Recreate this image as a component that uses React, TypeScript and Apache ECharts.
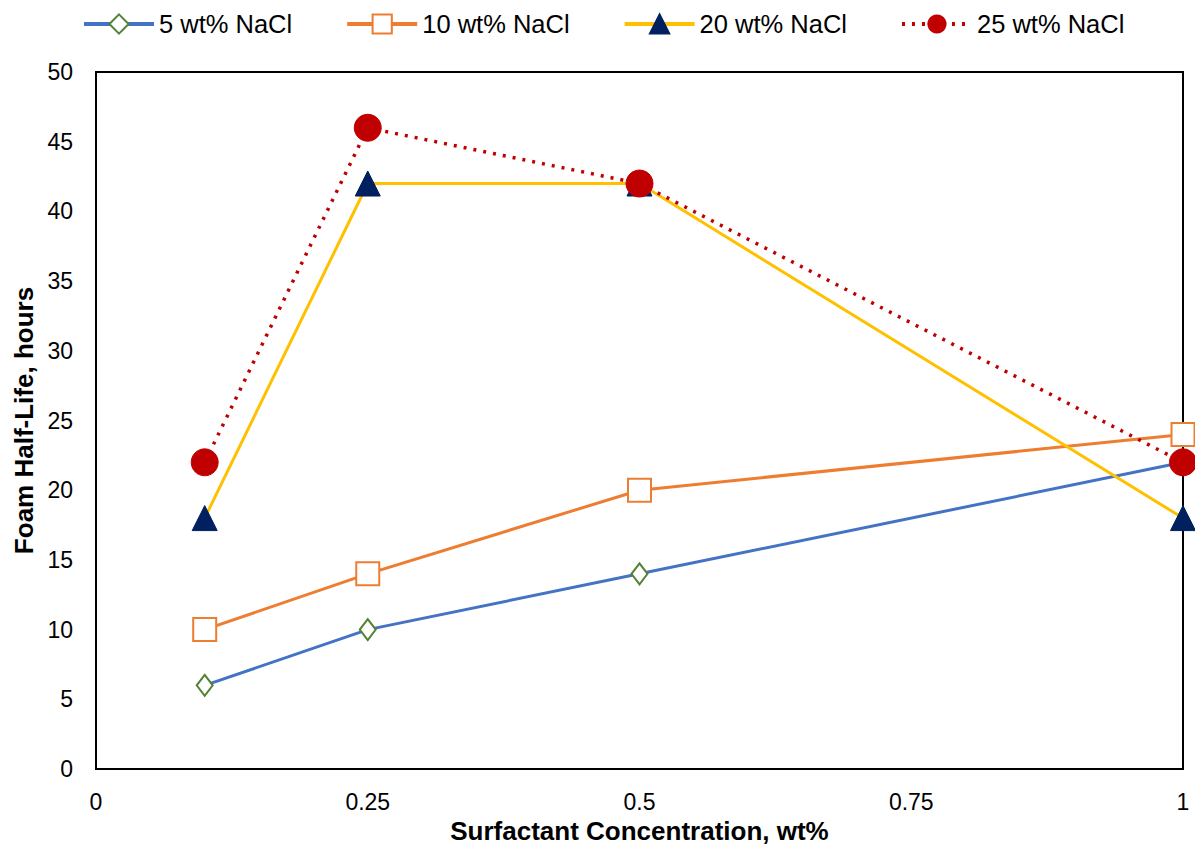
import React, { useEffect, useRef } from "react";
import * as echarts from "echarts";

const xValues = [0.1, 0.25, 0.5, 1];
const nacl5 = [6, 10, 14, 22];
const nacl10 = [10, 14, 20, 24];
const nacl20 = [18, 42, 42, 18];
const nacl25 = [22, 46, 42, 22];
const seriesNames = ["5 wt% NaCl", "10 wt% NaCl", "20 wt% NaCl", "25 wt% NaCl"];
const xTicks = [0, 0.25, 0.5, 0.75, 1];

const pair = (ys: number[]) => xValues.map((x, i) => [x, ys[i]]);

export default function App() {
  const ref = useRef<HTMLDivElement>(null);
  useEffect(() => {
    document.body.style.margin = "0";
    const chart = echarts.init(ref.current!, null, { renderer: "svg" });
    const font = "Liberation Sans, Arial, sans-serif";
    chart.setOption({
      animation: false,
      backgroundColor: "#ffffff",
      textStyle: { fontFamily: font },
      legend: {
        top: 6,
        left: 77,
        itemWidth: 70,
        itemHeight: 24,
        itemGap: 53,
        lineStyle: { width: 4 },
        textStyle: { fontSize: 25.5, color: "#000", fontFamily: font },
        data: seriesNames,
      },
      grid: { left: 96, right: 12, top: 72, bottom: 91, show: true, borderColor: "#000", borderWidth: 2 },
      xAxis: {
        type: "value",
        min: 0,
        max: 1,
        interval: 0.25,
        name: "Surfactant Concentration, wt%",
        nameLocation: "middle",
        nameGap: 40,
        nameTextStyle: { fontSize: 26, fontWeight: "bold", color: "#000", fontFamily: font },
        axisLine: { show: true, lineStyle: { color: "#000", width: 2 } },
        axisTick: { show: false },
        splitLine: { show: false },
        axisLabel: {
          fontSize: 23,
          color: "#000",
          margin: 21,
          formatter: (v: number) => (xTicks.includes(v) ? String(v) : ""),
        },
      },
      yAxis: {
        type: "value",
        min: 0,
        max: 50,
        interval: 5,
        name: "Foam Half-Life, hours",
        nameLocation: "middle",
        nameGap: 58,
        nameTextStyle: { fontSize: 26, fontWeight: "bold", color: "#000", fontFamily: font },
        axisLine: { show: true, lineStyle: { color: "#000", width: 2 } },
        axisTick: { show: false },
        splitLine: { show: false },
        axisLabel: { fontSize: 23, color: "#000", margin: 23 },
      },
      series: [
        {
          name: seriesNames[0],
          type: "line",
          data: pair(nacl5),
          symbol: "diamond",
          symbolSize: [16, 21],
          lineStyle: { color: "#4472C4", width: 3 },
          itemStyle: { color: "#ffffff", borderColor: "#548235", borderWidth: 2 },
          z: 2,
        },
        {
          name: seriesNames[1],
          type: "line",
          data: pair(nacl10),
          symbol: "rect",
          symbolSize: 23,
          lineStyle: { color: "#ED7D31", width: 3 },
          itemStyle: { color: "#ffffff", borderColor: "#ED7D31", borderWidth: 2 },
          z: 3,
        },
        {
          name: seriesNames[2],
          type: "line",
          data: pair(nacl20),
          symbol: "triangle",
          symbolSize: 25,
          lineStyle: { color: "#FFC000", width: 3 },
          itemStyle: { color: "#002060", borderColor: "#002060", borderWidth: 1 },
          z: 4,
        },
        {
          name: seriesNames[3],
          type: "line",
          data: pair(nacl25),
          symbol: "circle",
          symbolSize: 27,
          lineStyle: { color: "#C00000", width: 3.5, type: [3, 7] },
          itemStyle: { color: "#C00000", borderColor: "#C00000" },
          z: 5,
        },
      ],
    });
    return () => chart.dispose();
  }, []);
  return <div ref={ref} style={{ width: 1195, height: 860, position: "absolute", left: 0, top: 0 }} />;
}
